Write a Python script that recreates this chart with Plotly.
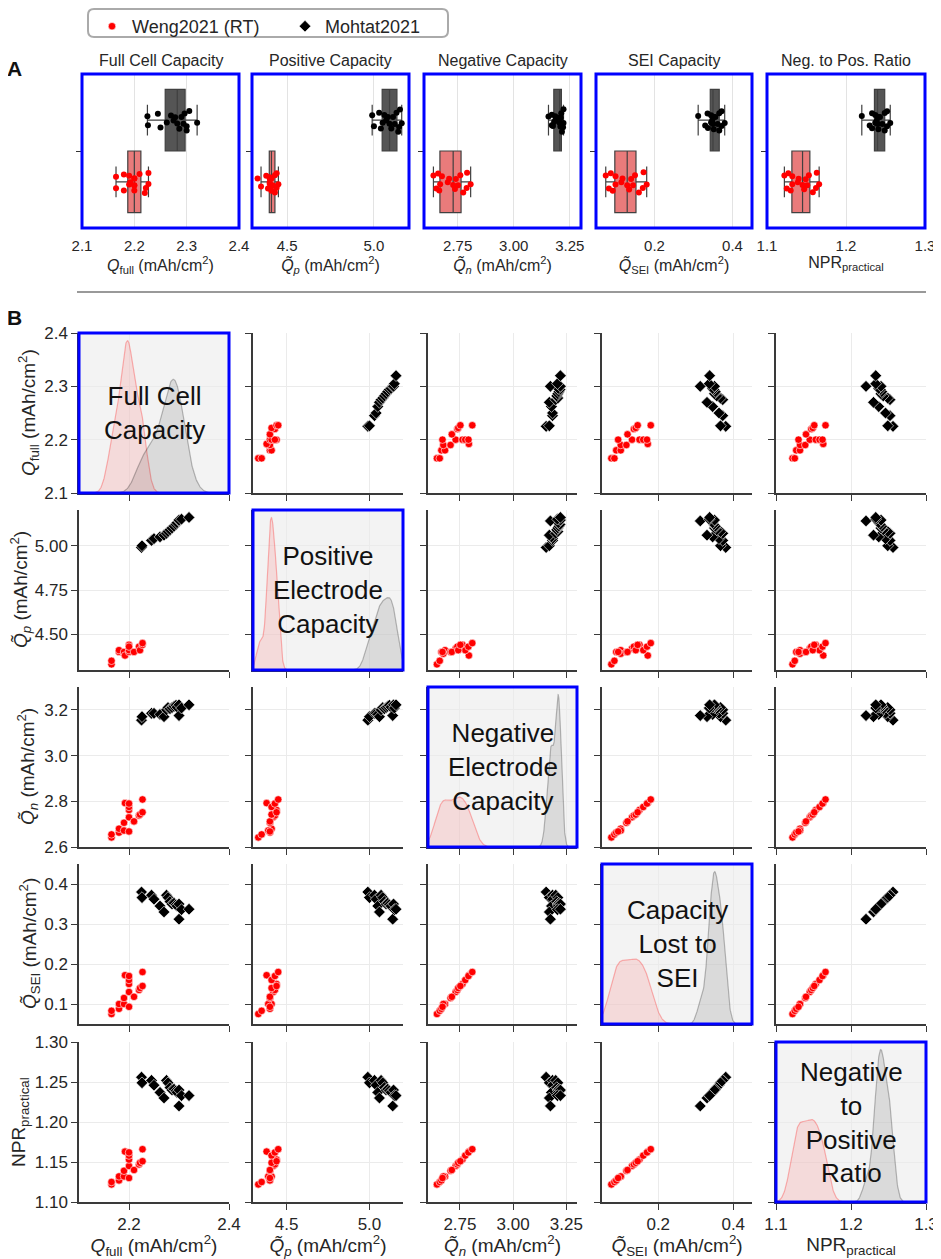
import numpy as np
import plotly.graph_objects as go

W, H = 941, 1259
OFF = 8  # page body margin
FONT = "Liberation Sans, Arial, sans-serif"

# ---------------- data ----------------
weng_qfull = [2.165, 2.165, 2.180, 2.180, 2.190, 2.190, 2.192, 2.200, 2.200, 2.200, 2.200, 2.200, 2.210, 2.220, 2.222, 2.227, 2.227]
weng_qp    = [4.33, 4.35, 4.40, 4.41, 4.39, 4.40, 4.38, 4.40, 4.42, 4.44, 4.41, 4.43, 4.40, 4.43, 4.41, 4.44, 4.45]
weng_qn    = [2.642, 2.655, 2.663, 2.680, 2.672, 2.706, 2.792, 2.668, 2.730, 2.762, 2.775, 2.790, 2.712, 2.738, 2.742, 2.752, 2.808]
weng_qsei  = [0.075, 0.083, 0.088, 0.100, 0.100, 0.115, 0.172, 0.093, 0.130, 0.150, 0.160, 0.170, 0.118, 0.135, 0.140, 0.145, 0.180]
weng_npr   = [1.122, 1.125, 1.127, 1.132, 1.132, 1.139, 1.163, 1.130, 1.145, 1.153, 1.158, 1.162, 1.140, 1.147, 1.149, 1.151, 1.166]

mohtat_qfull = [2.225, 2.226, 2.245, 2.250, 2.262, 2.270, 2.275, 2.278, 2.282, 2.286, 2.290, 2.294, 2.296, 2.300, 2.300, 2.305, 2.320]
mohtat_qp    = [4.99, 5.00, 5.03, 5.04, 5.05, 5.06, 5.07, 5.08, 5.09, 5.10, 5.11, 5.12, 5.13, 5.14, 5.145, 5.15, 5.16]
mohtat_qn    = [3.155, 3.170, 3.185, 3.185, 3.180, 3.170, 3.200, 3.210, 3.205, 3.210, 3.215, 3.220, 3.212, 3.175, 3.222, 3.208, 3.222]
mohtat_qsei  = [0.380, 0.366, 0.372, 0.362, 0.345, 0.330, 0.372, 0.366, 0.356, 0.350, 0.352, 0.348, 0.345, 0.312, 0.350, 0.336, 0.337]
mohtat_npr   = [1.256, 1.249, 1.252, 1.246, 1.237, 1.230, 1.252, 1.249, 1.243, 1.240, 1.241, 1.239, 1.237, 1.220, 1.240, 1.233, 1.233]

series_names = ["Weng2021 (RT)", "Mohtat2021"]

var_titles = [
    "<i>Q</i><sub>full</sub> (mAh/cm<sup>2</sup>)",
    "<i>Q\u0303</i><sub><i>p</i></sub> (mAh/cm<sup>2</sup>)",
    "<i>Q\u0303</i><sub><i>n</i></sub> (mAh/cm<sup>2</sup>)",
    "<i>Q\u0303</i><sub>SEI</sub> (mAh/cm<sup>2</sup>)",
    "NPR<sub>practical</sub>",
]
box_titles = ["Full Cell Capacity", "Positive Capacity", "Negative Capacity", "SEI Capacity", "Neg. to Pos. Ratio"]
diag_labels = ["Full Cell<br>Capacity", "Positive<br>Electrode<br>Capacity", "Negative<br>Electrode<br>Capacity",
               "Capacity<br>Lost to<br>SEI", "Negative<br>to<br>Positive<br>Ratio"]

axis_ranges = [[2.1, 2.4], [4.298, 5.202], [2.6, 3.3], [0.05, 0.45], [1.1, 1.3]]

a_tickvals = [[2.1, 2.2, 2.3, 2.4], [4.5, 5.0], [2.75, 3.0, 3.25], [0.2, 0.4], [1.1, 1.2, 1.3]]
a_ticktext = [["2.1", "2.2", "2.3", "2.4"], ["4.5", "5.0"], ["2.75", "3.00", "3.25"], ["0.2", "0.4"], ["1.1", "1.2", "1.3"]]
b_xtickvals = [[2.2, 2.4], [4.5, 5.0], [2.75, 3.0, 3.25], [0.2, 0.4], [1.1, 1.2, 1.3]]
b_xticktext = [["2.2", "2.4"], ["4.5", "5.0"], ["2.75", "3.00", "3.25"], ["0.2", "0.4"], ["1.1", "1.2", "1.3"]]
b_ytickvals = [[2.1, 2.2, 2.3, 2.4], [4.5, 4.75, 5.0], [2.6, 2.8, 3.0, 3.2], [0.1, 0.2, 0.3, 0.4], [1.1, 1.15, 1.2, 1.25, 1.3]]
b_yticktext = [["2.1", "2.2", "2.3", "2.4"], ["4.50", "4.75", "5.00"], ["2.6", "2.8", "3.0", "3.2"],
               ["0.1", "0.2", "0.3", "0.4"], ["1.10", "1.15", "1.20", "1.25", "1.30"]]

weng = [weng_qfull, weng_qp, weng_qn, weng_qsei, weng_npr]
mohtat = [mohtat_qfull, mohtat_qp, mohtat_qn, mohtat_qsei, mohtat_npr]

# ---------------- geometry / style (page pixels) ----------------
A_cols = [(82, 239), (252, 409), (424, 581), (596, 752), (767, 925)]
A_row = (74, 228)
B_cols = [(79, 229), (253, 403), (428, 577), (602, 752), (776, 926)]
B_rows = [(333, 493), (510, 670), (687, 847), (864, 1024), (1042, 1202)]
B_ytitle_x = [28, 20, 27, 29, 20]

FW, FH = W - OFF, H - OFF
RED = "#ff0000"
BLACK = "#000000"
TXT = "#262626"
AX = "#3a3a3a"
BLUE = "#0000ff"


def px(x):
    return (x - OFF) / FW


def py(y):
    return 1 - (y - OFF) / FH


def dx(a, b):
    return [px(a), px(b)]


def dy(top, bottom):
    return [py(bottom), py(top)]


def ax_id(k):
    return "" if k == 1 else str(k)


def kde(values, n_total):
    """Gaussian KDE (Scott's rule, cut=3) as used by seaborn's kdeplot, common_norm."""
    v = np.asarray(values, dtype=float)
    n = v.size
    bw = v.std(ddof=1) * n ** (-1 / 5)
    grid = np.linspace(v.min() - 3 * bw, v.max() + 3 * bw, 200)
    dens = np.exp(-0.5 * ((grid[:, None] - v[None, :]) / bw) ** 2).sum(axis=1)
    dens = dens / (n * bw * np.sqrt(2 * np.pi)) * (n / n_total)
    return grid, dens


fig = go.Figure()
layout = dict(
    width=FW, height=FH, margin=dict(l=0, r=0, t=0, b=0),
    paper_bgcolor="white", plot_bgcolor="rgba(0,0,0,0)",
    font=dict(family=FONT, color=TXT),
    boxmode="overlay",
    showlegend=True,
    legend=dict(orientation="h", x=px(92), y=1, xanchor="left", yanchor="top",
                font=dict(size=18, color=TXT), bgcolor="rgba(0,0,0,0)", borderwidth=0,
                entrywidth=148, entrywidthmode="pixels",
                itemclick=False, itemdoubleclick=False, traceorder="normal"),
)
shapes = []
annotations = []

# ---------------- Panel A: box plots ----------------
for i in range(5):
    s = ax_id(i + 1)
    layout["xaxis" + s] = dict(
        domain=dx(*A_cols[i]), anchor="y" + s, range=axis_ranges[i],
        tickmode="array", tickvals=a_tickvals[i], ticktext=a_ticktext[i],
        ticks="outside", ticklen=4, tickcolor="rgba(0,0,0,0)",
        showgrid=True, gridcolor="#e3e3e3", gridwidth=1, zeroline=False, showline=False,
        tickfont=dict(size=15, color=TXT), automargin=False,
        title=dict(text=var_titles[i], font=dict(size=16, color=TXT), standoff=3),
    )
    layout["yaxis" + s] = dict(
        domain=dy(*A_row), anchor="x" + s, range=[-0.5, 0.5],
        tickmode="array", tickvals=[0], ticktext=[""], ticks="outside", ticklen=5,
        tickcolor="#333333", showgrid=False, zeroline=False, showline=False, automargin=False,
    )
    for vals, pos, fill, mcol in [(weng[i], -0.2, "#e97b7b", RED), (mohtat[i], 0.2, "#555555", BLACK)]:
        fig.add_trace(go.Box(
            x=vals, y0=pos, width=0.4, orientation="h", boxpoints="all", jitter=0.4, pointpos=0,
            fillcolor=fill, line=dict(color="#404040", width=1.2), whiskerwidth=0.5,
            marker=dict(color=mcol, size=6, line=dict(width=0)),
            xaxis="x" + s, yaxis="y" + s, showlegend=False, hoverinfo="x",
        ))
    shapes.append(dict(type="rect", xref="paper", yref="paper",
                       x0=px(A_cols[i][0]), x1=px(A_cols[i][1]), y0=py(A_row[1]), y1=py(A_row[0]),
                       line=dict(color=BLUE, width=3), fillcolor="rgba(0,0,0,0)", layer="above"))
    annotations.append(dict(text=box_titles[i], xref="paper", yref="paper",
                            x=px((A_cols[i][0] + A_cols[i][1]) / 2), y=py(60),
                            xanchor="center", yanchor="middle", showarrow=False,
                            font=dict(size=16, color=TXT)))

# ---------------- Panel B: pair grid ----------------
for i in range(5):
    for j in range(5):
        k = 6 + i * 5 + j
        s = str(k)
        layout["xaxis" + s] = dict(
            domain=dx(*B_cols[j]), anchor="y" + s, range=axis_ranges[j],
            tickmode="array", tickvals=b_xtickvals[j], ticktext=b_xticktext[j],
            showticklabels=(i == 4), ticks="outside", ticklen=6, tickwidth=1.3, tickcolor=AX,
            showline=True, linecolor=AX, linewidth=1.5, showgrid=True, gridcolor="#ebebeb",
            zeroline=False, tickfont=dict(size=17, color=TXT), automargin=False,
            title=dict(text=var_titles[j] if i == 4 else "", font=dict(size=19, color=TXT), standoff=1),
        )
        layout["yaxis" + s] = dict(
            domain=dy(*B_rows[i]), anchor="x" + s, range=axis_ranges[i],
            tickmode="array", tickvals=b_ytickvals[i], ticktext=b_yticktext[i],
            showticklabels=(j == 0), ticks="outside", ticklen=6, tickwidth=1.3, tickcolor=AX,
            showline=True, linecolor=AX, linewidth=1.5, showgrid=True, gridcolor="#ebebeb",
            zeroline=False, tickfont=dict(size=17, color=TXT), automargin=False,
        )
        if i == j:
            # empty trace so the tick/grid subplot is drawn
            fig.add_trace(go.Scatter(x=[], y=[], mode="markers", xaxis="x" + s, yaxis="y" + s,
                                     showlegend=False, hoverinfo="skip"))
            shapes.append(dict(type="rect", xref="paper", yref="paper",
                               x0=px(B_cols[j][0]), x1=px(B_cols[j][1]), y0=py(B_rows[i][1]), y1=py(B_rows[i][0]),
                               line=dict(width=0), fillcolor="#f3f3f3", layer="below"))
            # separate hidden subplot for the density curves
            d = str(31 + i)
            n_total = len(weng[i]) + len(mohtat[i])
            curves = [kde(weng[i], n_total), kde(mohtat[i], n_total)]
            dmax = max(c[1].max() for c in curves)
            layout["xaxis" + d] = dict(domain=dx(*B_cols[j]), anchor="y" + d, range=axis_ranges[j],
                                       visible=False, showgrid=False, zeroline=False)
            layout["yaxis" + d] = dict(domain=dy(*B_rows[i]), anchor="x" + d, range=[0, dmax * 1.05],
                                       visible=False, showgrid=False, zeroline=False)
            for (g, dens), fill, lc in zip(curves, ["rgba(255,0,0,0.10)", "rgba(0,0,0,0.10)"],
                                           ["rgba(255,0,0,0.28)", "rgba(0,0,0,0.25)"]):
                fig.add_trace(go.Scatter(
                    x=g, y=dens, mode="lines", fill="tozeroy", fillcolor=fill,
                    line=dict(color=lc, width=1.2), xaxis="x" + d, yaxis="y" + d,
                    showlegend=False, hoverinfo="skip",
                ))
            shapes.append(dict(type="rect", xref="paper", yref="paper",
                               x0=px(B_cols[j][0]), x1=px(B_cols[j][1]), y0=py(B_rows[i][1]), y1=py(B_rows[i][0]),
                               line=dict(color=BLUE, width=3), fillcolor="rgba(0,0,0,0)", layer="above"))
            annotations.append(dict(text=diag_labels[i], xref="paper", yref="paper",
                                    x=px((B_cols[j][0] + B_cols[j][1]) / 2), y=py((B_rows[i][0] + B_rows[i][1]) / 2),
                                    xanchor="center", yanchor="middle", showarrow=False,
                                    font=dict(size=26, color="#111111")))
        else:
            first = (i == 1 and j == 0)
            fig.add_trace(go.Scatter(
                x=weng[j], y=weng[i], mode="markers", name=series_names[0],
                marker=dict(symbol="circle", size=7.5, color=RED, line=dict(color="white", width=0.6)),
                xaxis="x" + s, yaxis="y" + s, showlegend=first, legendgroup="w",
            ))
            fig.add_trace(go.Scatter(
                x=mohtat[j], y=mohtat[i], mode="markers", name=series_names[1],
                marker=dict(symbol="diamond", size=9, color=BLACK, line=dict(color="white", width=0.6)),
                xaxis="x" + s, yaxis="y" + s, showlegend=first, legendgroup="m",
            ))
    # row title on the left column
    annotations.append(dict(text=var_titles[i], xref="paper", yref="paper", textangle=-90,
                            x=px(B_ytitle_x[i]), y=py((B_rows[i][0] + B_rows[i][1]) / 2),
                            xanchor="center", yanchor="middle", showarrow=False,
                            font=dict(size=19, color=TXT)))

# legend frame (rounded), separator, panel letters
x0, x1, y0, y1 = px(88), px(448), py(37), py(9)
rx, ry = 6 / FW, 6 / FH
path = (f"M {x0+rx},{y1} L {x1-rx},{y1} Q {x1},{y1} {x1},{y1-ry} L {x1},{y0+ry} "
        f"Q {x1},{y0} {x1-rx},{y0} L {x0+rx},{y0} Q {x0},{y0} {x0},{y0+ry} "
        f"L {x0},{y1-ry} Q {x0},{y1} {x0+rx},{y1} Z")
shapes.append(dict(type="path", xref="paper", yref="paper", path=path,
                   line=dict(color="#aaaaaa", width=2), fillcolor="rgba(0,0,0,0)", layer="above"))
shapes.append(dict(type="line", xref="paper", yref="paper", x0=px(77), x1=px(926),
                   y0=py(292), y1=py(292), line=dict(color="#999999", width=2)))
annotations.append(dict(text="<b>A</b>", xref="paper", yref="paper", x=px(5), y=py(69),
                        xanchor="left", yanchor="middle", showarrow=False, font=dict(size=21, color="#111111")))
annotations.append(dict(text="<b>B</b>", xref="paper", yref="paper", x=px(5), y=py(318),
                        xanchor="left", yanchor="middle", showarrow=False, font=dict(size=21, color="#111111")))

layout["shapes"] = shapes
layout["annotations"] = annotations
fig.update_layout(**layout)
fig.write_html("out.html")
